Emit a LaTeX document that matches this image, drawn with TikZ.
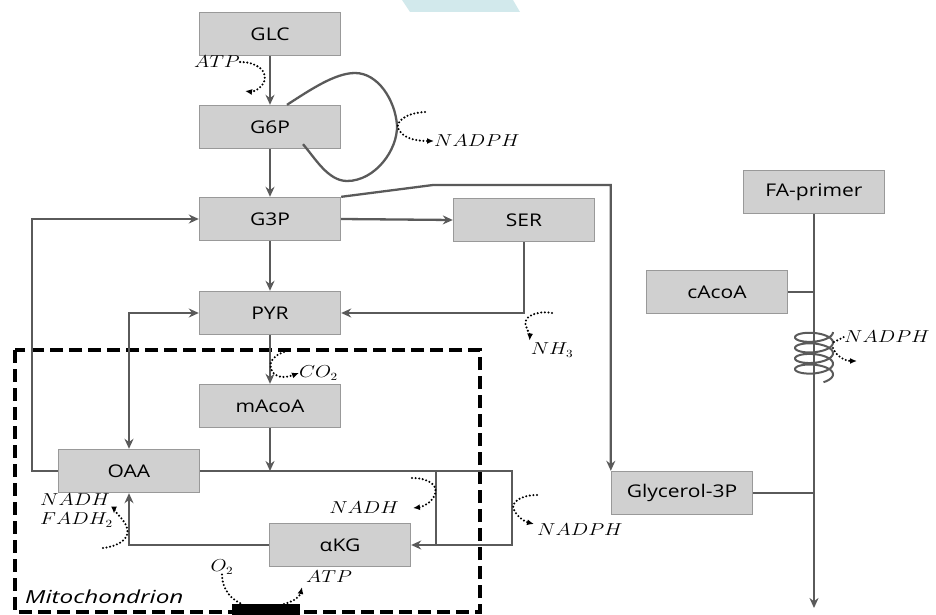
\documentclass[tikz,border=0pt]{standalone}
\usepackage{fontspec}
\usepackage{graphicx}
\setsansfont{Open Sans}
\usetikzlibrary{arrows.meta,calc}
\definecolor{boxfill}{HTML}{D0D0D0}
\definecolor{boxline}{HTML}{999999}
\definecolor{flowc}{HTML}{5A5A5A}
\definecolor{wm}{HTML}{D2E9EC}
\newcommand\hs[1]{\scalebox{1.2}[1]{#1}}
\newcommand\ml[1]{\scalebox{1.2}[1]{$#1$}}
\begin{document}
\begin{tikzpicture}[x=1pt,y=-1pt,
 box/.style={draw=boxline, fill=boxfill, line width=1.4pt, minimum width=141pt, minimum height=43pt, inner sep=0pt, font=\sffamily\fontsize{17.5}{20}\selectfont},
 flow/.style={draw=flowc, line width=2.3pt, -{Stealth[length=10pt,width=9pt]}},
 both/.style={draw=flowc, line width=2.3pt, {Stealth[length=10pt,width=9pt]}-{Stealth[length=10pt,width=9pt]}},
 plain/.style={draw=flowc, line width=2.3pt},
 dotsp/.style={draw=black, line width=2.3pt, dash pattern=on 0pt off 3.6pt, line cap=round},
 dots/.style={dotsp, -{Latex[length=7pt,width=6pt]}},
 lbl/.style={inner sep=0pt, font=\fontsize{16}{19}\selectfont},
 mitobox/.style={draw=black, line width=4.5pt, dash pattern=on 13pt off 6pt},
]
\useasboundingbox (0,0) rectangle (936,615);
\fill[wm] (402,0) -- (513,0) -- (520,12) -- (410,12) -- cycle;

% mitochondrion
\draw[mitobox] (15,350) rectangle (480,612);
\node[anchor=west, inner sep=0pt, font=\sffamily\itshape\fontsize{18}{20}\selectfont] (mito) at (25,597) {\scalebox{1.35}[1]{Mitochondrion}};
\fill[black] (232,604) rectangle (300,615);

% boxes
\node[box] (glc) at (270,34) {\hs{GLC}};
\node[box] (g6p) at (270,127) {\hs{G6P}};
\node[box] (g3p) at (270,219) {\hs{G3P}};
\node[box] (ser) at (524,220) {\hs{SER}};
\node[box] (pyr) at (270,313) {\hs{PYR}};
\node[box] (macoa) at (270,406) {\hs{mAcoA}};
\node[box] (oaa) at (129,471) {\hs{OAA}};
\node[box] (akg) at (340,545) {\hs{αKG}};
\node[box] (fa) at (814,192) {\hs{FA-primer}};
\node[box] (cacoa) at (717,292) {\hs{cAcoA}};
\node[box] (gly) at (682,493) {\hs{Glycerol-3P}};

% main flows
\draw[flow] (glc.south) -- (g6p.north);
\draw[flow] (g6p.south) -- (g3p.north);
\draw[flow] (g3p.south) -- (pyr.north);
\draw[flow] (pyr.south) -- (macoa.north);
\draw[flow] (g3p.east) -- (ser.west);
\draw[flow] (ser.south) |- (pyr.east);
\draw[plain] ([xshift=17pt]g6p.north) .. controls (310,90) and (335,73) .. (355,73)
  .. controls (378,73) and (395,100) .. (397,125)
  .. controls (398,150) and (375,181) .. (347,181)
  .. controls (328,181) and (315,158) .. ([xshift=33pt,yshift=5pt]g6p.south);
\coordinate (bend) at (433,185);
\draw[flow] (g3p.north east) -- (bend) -| (gly.north west);
\coordinate (jm) at (macoa.south |- oaa.east);
\draw[flow] (macoa.south) -- (jm);
\coordinate (r1) at (436,471);
\coordinate (r2) at (512,471);
\draw[plain] (oaa.east) -- (r2) -- (r2 |- akg.east) -- (r1 |- akg.east);
\draw[flow] (r1) -- (r1 |- akg.east) -- (akg.east);
\draw[flow] (akg.west) -| (oaa.south);
\draw[both] (oaa.north) |- (pyr.west);
\coordinate (lft) at (32,471);
\draw[flow] (oaa.west) -- (lft) |- (g3p.west);

% fatty acid synthesis
\coordinate (faend) at (814,608);
\draw[flow] (fa.south) -- (faend);
\draw[plain] (cacoa.east) -- (cacoa.east -| fa.south);
\draw[plain] (gly.east) -- (gly.east -| fa.south);
\draw[draw=flowc, line width=2pt] plot[domain=0:1500, samples=180, smooth] ({814+19*cos(\x)}, {332+\x/34+7*sin(\x)});

% cofactor labels and dotted arrows
\node[lbl] (atp1) at (217,62) {\ml{ATP}};
\draw[dots] (atp1.east) .. controls (258,62) and (268,72) .. (264,82) .. controls (260,90) and (252,92) .. (245,91);

\node[lbl, anchor=west] (nadph1) at (434,141) {\ml{NADPH}};
\draw[dots] (425,112) .. controls (405,113) and (396,122) .. (398,128) .. controls (402,138) and (415,141) .. (nadph1.west);

\node[lbl, anchor=west] (co2) at (299,373) {\ml{CO_2}};
\draw[dots] (284,352) .. controls (272,356) and (268,364) .. (272,371) .. controls (276,378) and (285,378) .. (co2.west);

\node[lbl] (nh3) at (552,350) {\ml{NH_3}};
\draw[dots] (552,313) .. controls (535,310) and (522,318) .. (526,326) .. controls (528,332) and (530,335) .. ([xshift=-1pt,yshift=2pt]nh3.north west);

\node[lbl] (nadh2) at (364,508) {\ml{NADH}};
\draw[dots] (412,478) .. controls (430,478) and (438,486) .. (435,494) .. controls (432,503) and (422,507) .. ([xshift=14pt]nadh2.east);

\node[lbl, anchor=west] (nadph2) at (537,530) {\ml{NADPH}};
\draw[dots] (537,495) .. controls (520,495) and (510,503) .. (514,510) .. controls (518,518) and (526,522) .. ([xshift=-3pt,yshift=6pt]nadph2.west);

\node[lbl, anchor=west] (nadh3) at (40,500) {\ml{NADH}};
\node[lbl, anchor=west] (fadh) at (40,520) {\ml{FADH_2}};
\draw[dots] (103,548) .. controls (120,546) and (130,538) .. (127,528) .. controls (124,518) and (114,513) .. ([xshift=1pt,yshift=-1pt]fadh.north east);

\node[lbl] (o2) at (222,567) {\ml{O_2}};
\draw[dotsp] (o2.south) .. controls (222,590) and (232,600) .. (242,604);

\node[lbl, anchor=west] (atp2) at (306,577) {\ml{ATP}};
\draw[dots] (284,604) .. controls (295,601) and (300,596) .. ([xshift=-4pt,yshift=-10pt]atp2.west);

\node[lbl, anchor=west] (nadph3) at (844,337) {\ml{NADPH}};
\draw[dotsp] (834,342) -- (nadph3.west);
\coordinate (fatip) at (857,361);
\draw[dots] (833,348) .. controls (836,356) and (845,361) .. (fatip);
\end{tikzpicture}
\end{document}
